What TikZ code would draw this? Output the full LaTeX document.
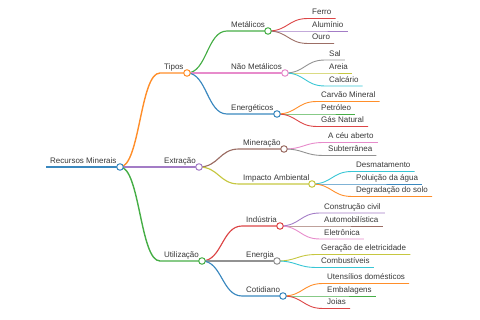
\documentclass[tikz,border=0pt]{standalone}
\usepackage{fontspec}
\setmainfont{Liberation Sans}
\usepackage{xcolor}
\usetikzlibrary{positioning}

\definecolor{cBlue}{HTML}{3A88BF}
\definecolor{cOrange}{HTML}{FF8E2A}
\definecolor{cGreen}{HTML}{46AE46}
\definecolor{cRed}{HTML}{DC4546}
\definecolor{cPurple}{HTML}{A37CC6}
\definecolor{cBrown}{HTML}{9C6E65}
\definecolor{cPink}{HTML}{E78BCB}
\definecolor{cGray}{HTML}{929292}
\definecolor{cOlive}{HTML}{C6C740}
\definecolor{cCyan}{HTML}{38C6D5}

\begin{document}
\begin{tikzpicture}[
        x=1pt, y=-1pt,
        lbl/.style={anchor=base west, inner xsep=4pt, inner ysep=0pt, yshift=3.5pt,
            font=\fontsize{8}{9}\selectfont, text=black!78},
        dot/.style={circle, draw=#1, fill=white, line width=1pt, inner sep=0pt, minimum size=6.5pt},
        edge/.style={draw=#1, line width=0.9pt},
        branch/.style={draw=#1, line width=1.15pt},
        trunk/.style={draw=#1, line width=1.4pt},
    ]
        \useasboundingbox (0,0) rectangle (480,320);

        % Root and first level
        \coordinate (root-s) at (46,167);
        \coordinate (root-c) at (120,167);
        \node[lbl] (root) at (root-s) {Recursos Minerais};

        \coordinate (tipos-s) at (160,73);
        \coordinate (tipos-c) at (187,73);
        \node[lbl] (tipos) at (tipos-s) {Tipos};
        \coordinate (extracao-s) at (160,167);
        \coordinate (extracao-c) at (199,167);
        \node[lbl] (extracao) at (extracao-s) {Extração};
        \coordinate (utilizacao-s) at (160,261);
        \coordinate (utilizacao-c) at (202,261);
        \node[lbl] (utilizacao) at (utilizacao-s) {Utilização};

        % Second level
        \coordinate (metalicos-s) at (227,31);
        \coordinate (metalicos-c) at (268,31);
        \node[lbl] (metalicos) at (metalicos-s) {Metálicos};
        \coordinate (naometalicos-s) at (227,73);
        \coordinate (naometalicos-c) at (285,73);
        \node[lbl] (naometalicos) at (naometalicos-s) {Não Metálicos};
        \coordinate (energeticos-s) at (227,114);
        \coordinate (energeticos-c) at (277,114);
        \node[lbl] (energeticos) at (energeticos-s) {Energéticos};
        \coordinate (mineracao-s) at (239,149);
        \coordinate (mineracao-c) at (284,149);
        \node[lbl] (mineracao) at (mineracao-s) {Mineração};
        \coordinate (impacto-s) at (239,184);
        \coordinate (impacto-c) at (312,184);
        \node[lbl] (impacto) at (impacto-s) {Impacto Ambiental};
        \coordinate (industria-s) at (242,226);
        \coordinate (industria-c) at (280,226);
        \node[lbl] (industria) at (industria-s) {Indústria};
        \coordinate (energia-s) at (242,261);
        \coordinate (energia-c) at (277,261);
        \node[lbl] (energia) at (energia-s) {Energia};
        \coordinate (cotidiano-s) at (242,296);
        \coordinate (cotidiano-c) at (283,296);
        \node[lbl] (cotidiano) at (cotidiano-s) {Cotidiano};

        % Leaves
        \coordinate (ferro-s) at (308,18.5);
        \node[lbl] (ferro) at (ferro-s) {Ferro};
        \coordinate (aluminio-s) at (308,31);
        \node[lbl] (aluminio) at (aluminio-s) {Alumínio};
        \coordinate (ouro-s) at (308,43.5);
        \node[lbl] (ouro) at (ouro-s) {Ouro};
        \coordinate (sal-s) at (325,60);
        \node[lbl] (sal) at (sal-s) {Sal};
        \coordinate (areia-s) at (325,73);
        \node[lbl] (areia) at (areia-s) {Areia};
        \coordinate (calcario-s) at (325,86);
        \node[lbl] (calcario) at (calcario-s) {Calcário};
        \coordinate (carvao-s) at (317,101.5);
        \node[lbl] (carvao) at (carvao-s) {Carvão Mineral};
        \coordinate (petroleo-s) at (317,114);
        \node[lbl] (petroleo) at (petroleo-s) {Petróleo};
        \coordinate (gas-s) at (317,126.5);
        \node[lbl] (gas) at (gas-s) {Gás Natural};
        \coordinate (ceuaberto-s) at (324,142.5);
        \node[lbl] (ceuaberto) at (ceuaberto-s) {A céu aberto};
        \coordinate (subterranea-s) at (324,155.5);
        \node[lbl] (subterranea) at (subterranea-s) {Subterrânea};
        \coordinate (desmatamento-s) at (352,171.5);
        \node[lbl] (desmatamento) at (desmatamento-s) {Desmatamento};
        \coordinate (poluicao-s) at (352,184);
        \node[lbl] (poluicao) at (poluicao-s) {Poluição da água};
        \coordinate (degradacao-s) at (352,196.5);
        \node[lbl] (degradacao) at (degradacao-s) {Degradação do solo};
        \coordinate (construcao-s) at (320,213);
        \node[lbl] (construcao) at (construcao-s) {Construção civil};
        \coordinate (automob-s) at (320,226);
        \node[lbl] (automob) at (automob-s) {Automobilística};
        \coordinate (eletronica-s) at (320,239);
        \node[lbl] (eletronica) at (eletronica-s) {Eletrônica};
        \coordinate (geracao-s) at (317,254.5);
        \node[lbl] (geracao) at (geracao-s) {Geração de eletricidade};
        \coordinate (combustiveis-s) at (317,267.5);
        \node[lbl] (combustiveis) at (combustiveis-s) {Combustíveis};
        \coordinate (utensilios-s) at (323,283.5);
        \node[lbl] (utensilios) at (utensilios-s) {Utensílios domésticos};
        \coordinate (embalagens-s) at (323,296);
        \node[lbl] (embalagens) at (embalagens-s) {Embalagens};
        \coordinate (joias-s) at (323,308.5);
        \node[lbl] (joias) at (joias-s) {Joias};

        % Links
        \draw[cBlue, line width=1.7pt] (root-s) -- (root-c);
        \draw[trunk=cOrange] (root-c) .. controls +(20,0) and +(-20,0) .. (tipos-s) -- (tipos-c);
        \draw[trunk=cPurple] (root-c) -- (extracao-s) -- (extracao-c);
        \draw[trunk=cGreen] (root-c) .. controls +(20,0) and +(-20,0) .. (utilizacao-s) -- (utilizacao-c);

        \draw[branch=cGreen] (tipos-c) .. controls +(20,0) and +(-20,0) .. (metalicos-s) -- (metalicos-c);
        \draw[branch=cPink] (tipos-c) -- (naometalicos-s) -- (naometalicos-c);
        \draw[branch=cBlue] (tipos-c) .. controls +(20,0) and +(-20,0) .. (energeticos-s) -- (energeticos-c);
        \draw[branch=cBrown] (extracao-c) .. controls +(20,0) and +(-20,0) .. (mineracao-s) -- (mineracao-c);
        \draw[branch=cOlive] (extracao-c) .. controls +(20,0) and +(-20,0) .. (impacto-s) -- (impacto-c);
        \draw[branch=cRed] (utilizacao-c) .. controls +(20,0) and +(-20,0) .. (industria-s) -- (industria-c);
        \draw[branch=cGray] (utilizacao-c) -- (energia-s) -- (energia-c);
        \draw[branch=cBlue] (utilizacao-c) .. controls +(20,0) and +(-20,0) .. (cotidiano-s) -- (cotidiano-c);

        \draw[edge=cRed] (metalicos-c) .. controls +(20,0) and +(-20,0) .. (ferro-s) -- (ferro.east |- ferro-s);
        \draw[edge=cPurple] (metalicos-c) -- (aluminio-s) -- (aluminio.east |- aluminio-s);
        \draw[edge=cBrown] (metalicos-c) .. controls +(20,0) and +(-20,0) .. (ouro-s) -- (ouro.east |- ouro-s);
        \draw[edge=cGray] (naometalicos-c) .. controls +(20,0) and +(-20,0) .. (sal-s) -- (sal.east |- sal-s);
        \draw[edge=cOlive] (naometalicos-c) -- (areia-s) -- (areia.east |- areia-s);
        \draw[edge=cCyan] (naometalicos-c) .. controls +(20,0) and +(-20,0) .. (calcario-s) -- (calcario.east |- calcario-s);
        \draw[edge=cOrange] (energeticos-c) .. controls +(20,0) and +(-20,0) .. (carvao-s) -- (carvao.east |- carvao-s);
        \draw[edge=cGreen] (energeticos-c) -- (petroleo-s) -- (petroleo.east |- petroleo-s);
        \draw[edge=cRed] (energeticos-c) .. controls +(20,0) and +(-20,0) .. (gas-s) -- (gas.east |- gas-s);
        \draw[edge=cPink] (mineracao-c) .. controls +(20,0) and +(-20,0) .. (ceuaberto-s) -- (ceuaberto.east |- ceuaberto-s);
        \draw[edge=cGray] (mineracao-c) .. controls +(20,0) and +(-20,0) .. (subterranea-s) -- (subterranea.east |- subterranea-s);
        \draw[edge=cCyan] (impacto-c) .. controls +(20,0) and +(-20,0) .. (desmatamento-s) -- (desmatamento.east |- desmatamento-s);
        \draw[edge=cBlue] (impacto-c) -- (poluicao-s) -- (poluicao.east |- poluicao-s);
        \draw[edge=cOrange] (impacto-c) .. controls +(20,0) and +(-20,0) .. (degradacao-s) -- (degradacao.east |- degradacao-s);
        \draw[edge=cPurple] (industria-c) .. controls +(20,0) and +(-20,0) .. (construcao-s) -- (construcao.east |- construcao-s);
        \draw[edge=cBrown] (industria-c) -- (automob-s) -- (automob.east |- automob-s);
        \draw[edge=cPink] (industria-c) .. controls +(20,0) and +(-20,0) .. (eletronica-s) -- (eletronica.east |- eletronica-s);
        \draw[edge=cOlive] (energia-c) .. controls +(20,0) and +(-20,0) .. (geracao-s) -- (geracao.east |- geracao-s);
        \draw[edge=cCyan] (energia-c) .. controls +(20,0) and +(-20,0) .. (combustiveis-s) -- (combustiveis.east |- combustiveis-s);
        \draw[edge=cOrange] (cotidiano-c) .. controls +(20,0) and +(-20,0) .. (utensilios-s) -- (utensilios.east |- utensilios-s);
        \draw[edge=cGreen] (cotidiano-c) -- (embalagens-s) -- (embalagens.east |- embalagens-s);
        \draw[edge=cRed] (cotidiano-c) .. controls +(20,0) and +(-20,0) .. (joias-s) -- (joias.east |- joias-s);

        % Dots
        \node[dot=cBlue] (root-dot) at (root-c) {};
        \node[dot=cOrange] (tipos-dot) at (tipos-c) {};
        \node[dot=cPurple] (extracao-dot) at (extracao-c) {};
        \node[dot=cGreen] (utilizacao-dot) at (utilizacao-c) {};
        \node[dot=cGreen] (metalicos-dot) at (metalicos-c) {};
        \node[dot=cPink] (naometalicos-dot) at (naometalicos-c) {};
        \node[dot=cBlue] (energeticos-dot) at (energeticos-c) {};
        \node[dot=cBrown] (mineracao-dot) at (mineracao-c) {};
        \node[dot=cOlive] (impacto-dot) at (impacto-c) {};
        \node[dot=cRed] (industria-dot) at (industria-c) {};
        \node[dot=cGray] (energia-dot) at (energia-c) {};
        \node[dot=cBlue] (cotidiano-dot) at (cotidiano-c) {};

    \end{tikzpicture}
\end{document}
